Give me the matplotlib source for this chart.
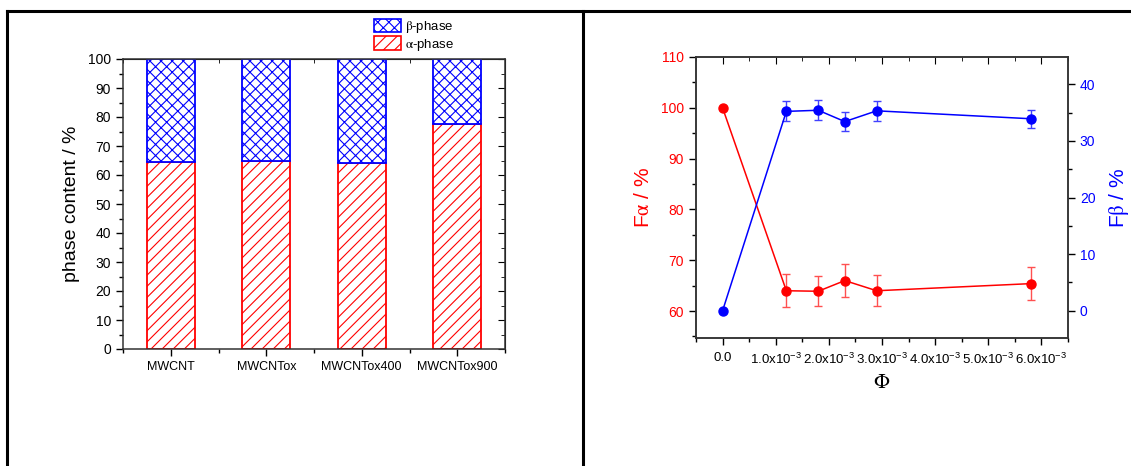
import matplotlib
matplotlib.use("Agg")
import matplotlib.pyplot as plt
from matplotlib.patches import Patch
from matplotlib.lines import Line2D
from matplotlib.ticker import MultipleLocator, FixedLocator
import numpy as np

plt.rcParams['font.family'] = ['Liberation Sans', 'DejaVu Sans']
plt.rcParams['mathtext.fontset'] = 'stix'
plt.rcParams['hatch.linewidth'] = 0.8

# left panel: phase content of the samples
samples = ['MWCNT', 'MWCNTox', 'MWCNTox400', 'MWCNTox900']
alpha_phase = [64.5, 64.8, 64.0, 77.5]
beta_phase = [100 - a for a in alpha_phase]

# right panel: fractions vs filler content
phi = [0.0, 1.2e-3, 1.8e-3, 2.3e-3, 2.9e-3, 5.8e-3]
f_alpha = [100.0, 64.0, 63.9, 66.0, 64.0, 65.4]
f_alpha_err = [0, 3.2, 3.0, 3.3, 3.0, 3.2]
f_beta = [0.0, 35.2, 35.4, 33.4, 35.3, 33.9]
f_beta_err = [0, 1.75, 1.8, 1.7, 1.75, 1.6]
phi_ticks = [0, 1e-3, 2e-3, 3e-3, 4e-3, 5e-3, 6e-3]
phi_labels = ['0.0'] + ['%.1fx10$^{\\mathregular{-3}}$' % v for v in range(1, 7)]

W, H = 1131, 466
fig = plt.figure(figsize=(W / 100, H / 100), dpi=100)

# table-like frame around the two panels
for xs, ys in [([7, W], [11, 11]), ([7, 7], [11, H]), ([583, 583], [11, H])]:
    fig.add_artist(Line2D([x / W for x in xs], [1 - y / H for y in ys],
                          color='black', lw=2.2, transform=fig.transFigure))

# ---- left panel
ax1 = fig.add_axes([123 / W, 1 - 349 / H, 382 / W, 290 / H])
x = np.arange(1, len(samples) + 1)
ax1.bar(x, alpha_phase, width=0.5, color='white', edgecolor='red', hatch='///', lw=1.3)
ax1.bar(x, beta_phase, bottom=alpha_phase, width=0.5, color='white', edgecolor='blue',
        hatch='xxx', lw=1.3)
ax1.set_xlim(0.5, 4.5)
ax1.set_ylim(0, 100)
ax1.set_xticks(x)
ax1.set_xticklabels(samples, fontsize=9)
ax1.xaxis.set_minor_locator(FixedLocator([0.5, 1.5, 2.5, 3.5, 4.5]))
ax1.yaxis.set_major_locator(MultipleLocator(10))
ax1.yaxis.set_minor_locator(MultipleLocator(5))
ax1.tick_params(axis='y', labelsize=10)
ax1.tick_params(which='major', length=5, width=1, direction='out')
ax1.tick_params(which='minor', length=3, width=1, direction='out')
ax1.set_ylabel('phase content / %', fontsize=14, labelpad=6)
for s in ax1.spines.values():
    s.set_linewidth(1.1)
    s.set_color('#333333')
top1 = ax1.secondary_xaxis('top')
top1.set_xticks(x)
top1.xaxis.set_minor_locator(FixedLocator([0.5, 1.5, 2.5, 3.5, 4.5]))
top1.tick_params(which='both', direction='in', labeltop=False)
top1.tick_params(which='major', length=5)
top1.tick_params(which='minor', length=3)
right1 = ax1.secondary_yaxis('right')
right1.yaxis.set_major_locator(MultipleLocator(10))
right1.yaxis.set_minor_locator(MultipleLocator(5))
right1.tick_params(which='both', direction='in', labelright=False)
right1.tick_params(which='major', length=5)
right1.tick_params(which='minor', length=3)

handles = [Patch(facecolor='white', edgecolor='blue', hatch='xxx', lw=1.2),
           Patch(facecolor='white', edgecolor='red', hatch='///', lw=1.2)]
fig.legend(handles, [r'$\mathrm{\beta}$-phase', r'$\mathrm{\alpha}$-phase'], loc='upper left',
           bbox_to_anchor=(367 / W, 1 - 12 / H), frameon=False, fontsize=9.5,
           borderpad=0, handlelength=2.1, handleheight=1.2, handletextpad=0.3,
           labelspacing=0.12)

# ---- right panel
ax2 = fig.add_axes([696 / W, 1 - 338 / H, 372 / W, 281 / H])
ax3 = ax2.twinx()
ax2.errorbar(phi, f_alpha, yerr=f_alpha_err, color='red', marker='o', ms=6.5, lw=1.1,
             elinewidth=1, capsize=3, ecolor='#ff5050')
ax3.errorbar(phi, f_beta, yerr=f_beta_err, color='blue', marker='o', ms=6.5, lw=1.1,
             elinewidth=1, capsize=3, ecolor='#4040ff')
ax2.set_xlim(-0.5e-3, 6.5e-3)
ax2.set_ylim(54.7, 110)
ax3.set_ylim(-4.8, 44.8)
ax2.set_xticks(phi_ticks)
ax2.set_xticklabels(phi_labels, fontsize=9.5)
ax2.xaxis.set_minor_locator(MultipleLocator(0.5e-3))
ax2.yaxis.set_major_locator(MultipleLocator(10))
ax2.yaxis.set_minor_locator(MultipleLocator(5))
ax3.yaxis.set_major_locator(MultipleLocator(10))
ax3.yaxis.set_minor_locator(MultipleLocator(5))
ax2.tick_params(axis='y', colors='black', labelcolor='red', labelsize=10)
ax3.tick_params(axis='y', colors='black', labelcolor='blue', labelsize=10)
ax2.tick_params(axis='x', labelsize=9.5, pad=5)
for a in (ax2, ax3):
    a.tick_params(which='major', length=5, width=1, direction='out')
    a.tick_params(which='minor', length=3, width=1, direction='out')
    for s in a.spines.values():
        s.set_linewidth(1.1)
        s.set_color('#333333')
ax2.set_ylabel(r'F$\mathrm{\alpha}$ / %', color='red', fontsize=15, labelpad=6)
ax3.set_ylabel(r'F$\mathrm{\beta}$ / %', color='blue', fontsize=15, labelpad=8)
ax2.set_xlabel(r'$\mathrm{\Phi}$', fontsize=15, labelpad=4)
top2 = ax2.secondary_xaxis('top')
top2.set_xticks(phi_ticks)
top2.xaxis.set_minor_locator(MultipleLocator(0.5e-3))
top2.tick_params(which='both', direction='in', labeltop=False)
top2.tick_params(which='major', length=5)
top2.tick_params(which='minor', length=3)
top2.spines['top'].set_visible(False)

fig.savefig('out.png', dpi=100)
